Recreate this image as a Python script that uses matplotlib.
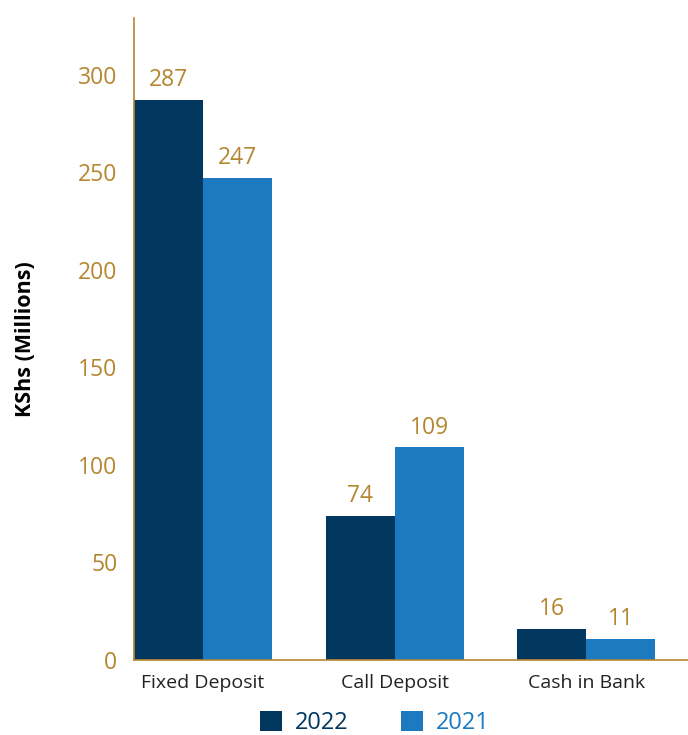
import matplotlib
matplotlib.use("Agg")
import matplotlib.pyplot as plt
import numpy as np

categories = ["Fixed Deposit", "Call Deposit", "Cash in Bank"]
values_2022 = [287, 74, 16]
values_2021 = [247, 109, 11]
series_labels = ["2022", "2021"]
y_ticks = [0, 50, 100, 150, 200, 250, 300]

navy = "#02375f"
blue = "#1d7ac0"
gold = "#b5862f"

plt.rcParams["font.family"] = ["Open Sans", "DejaVu Sans"]

fig = plt.figure(figsize=(6.88, 7.35), dpi=100)
ax = fig.add_axes([0.1948, 0.102, 0.8052, 0.8735])

x = np.arange(len(categories))
w = 0.36
b1 = ax.bar(x - w / 2, values_2022, w, color=navy, label=series_labels[0])
b2 = ax.bar(x + w / 2, values_2021, w, color=blue, label=series_labels[1])

for bars, vals in ((b1, values_2022), (b2, values_2021)):
    for rect, v in zip(bars, vals):
        ax.text(rect.get_x() + rect.get_width() / 2, v + 4, str(v),
                ha="center", va="bottom", color=gold, fontsize=16.5)

ax.set_xlim(-0.36, 2.53)
ax.set_ylim(0, 329)
ax.set_yticks(y_ticks)
ax.set_yticklabels([str(t) for t in y_ticks], color=gold, fontsize=16.5)
ax.tick_params(axis="y", length=0, pad=12)
ax.set_xticks(x)
ax.set_xticklabels(categories, fontsize=14, color="#222222")
ax.tick_params(axis="x", length=0, pad=10)

for s in ("top", "right"):
    ax.spines[s].set_visible(False)
for s in ("left", "bottom"):
    ax.spines[s].set_color(gold)
    ax.spines[s].set_linewidth(1.2)

ax.set_ylabel("KShs (Millions)", fontsize=15.5, fontweight="bold", color="black", labelpad=30)

leg = fig.legend(handles=[b1, b2], labels=series_labels, loc="center",
                 bbox_to_anchor=(0.545, 0.016), ncol=2, frameon=False,
                 fontsize=17, handlelength=0.95, handleheight=0.95,
                 columnspacing=2.2, handletextpad=0.55, borderpad=0.1)
for t, c in zip(leg.get_texts(), (navy, blue)):
    t.set_color(c)

fig.savefig("out.png", dpi=100)
